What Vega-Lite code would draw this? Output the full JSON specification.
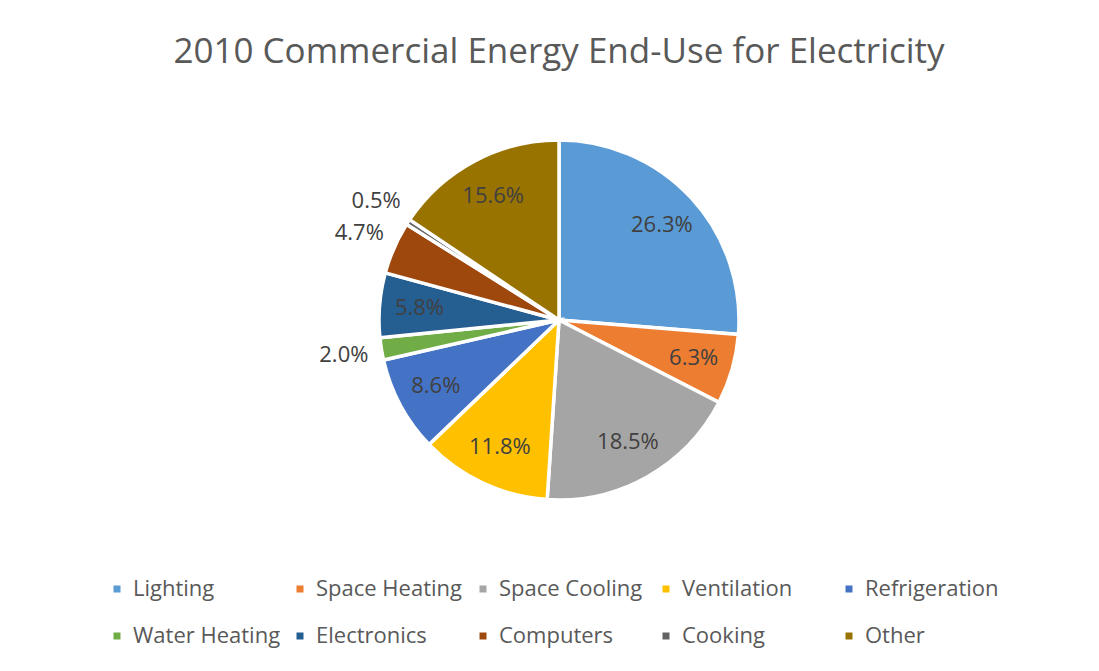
{
  "$schema": "https://vega.github.io/schema/vega-lite/v6.json",
  "autosize": {"type": "none"},
  "width": 1078,
  "height": 450,
  "padding": {"left": 20, "right": 0, "top": 95, "bottom": 126},
  "background": "white",
  "title": {
    "text": "2010 Commercial Energy End-Use for Electricity",
    "font": "Open Sans",
    "fontSize": 35,
    "fontWeight": "normal",
    "color": "#595959",
    "anchor": "middle",
    "offset": 25
  },
  "data": {
    "values": [
      {"category": "Lighting", "value": 0.263, "idx": 1},
      {"category": "Space Heating", "value": 0.063, "idx": 2},
      {"category": "Space Cooling", "value": 0.185, "idx": 3},
      {"category": "Ventilation", "value": 0.118, "idx": 4},
      {"category": "Refrigeration", "value": 0.086, "idx": 5},
      {"category": "Water Heating", "value": 0.020, "idx": 6},
      {"category": "Electronics", "value": 0.058, "idx": 7},
      {"category": "Computers", "value": 0.047, "idx": 8},
      {"category": "Cooking", "value": 0.005, "idx": 9},
      {"category": "Other", "value": 0.156, "idx": 10}
    ]
  },
  "encoding": {
    "theta": {"field": "value", "type": "quantitative", "stack": true},
    "order": {"field": "idx", "type": "quantitative"},
    "color": {
      "field": "category",
      "type": "nominal",
      "scale": {
        "domain": ["Lighting", "Space Heating", "Space Cooling", "Ventilation", "Refrigeration", "Water Heating", "Electronics", "Computers", "Cooking", "Other"],
        "range": ["#5B9BD5", "#ED7D31", "#A5A5A5", "#FFC000", "#4472C4", "#70AD47", "#255E91", "#9E480E", "#636363", "#997300"]
      },
      "legend": {
        "title": null,
        "orient": "none",
        "legendX": 86,
        "legendY": 483,
        "direction": "horizontal",
        "columns": 5,
        "gridAlign": "all",
        "columnPadding": 8,
        "rowPadding": 25,
        "padding": 0,
        "symbolType": "square",
        "symbolSize": 49,
        "symbolStrokeWidth": 0,
        "labelFont": "Open Sans",
        "labelFontSize": 22,
        "labelColor": "#595959",
        "labelOffset": 5,
        "labelLimit": 300
      }
    }
  },
  "layer": [
    {
      "mark": {"type": "arc", "outerRadius": 180, "stroke": "white", "strokeWidth": 3.5}
    },
    {
      "mark": {"type": "text", "radius": 140, "font": "Open Sans", "fontSize": 22},
      "encoding": {
        "text": {"condition": {"test": "datum.value >= 0.05", "field": "value", "type": "quantitative", "format": ".1%"}, "value": ""},
        "color": {"value": "#404040"}
      }
    },
    {
      "mark": {"type": "text", "radius": 218, "font": "Open Sans", "fontSize": 22},
      "encoding": {
        "text": {"condition": {"test": "datum.value < 0.05", "field": "value", "type": "quantitative", "format": ".1%"}, "value": ""},
        "color": {"value": "#404040"}
      }
    }
  ]
}
